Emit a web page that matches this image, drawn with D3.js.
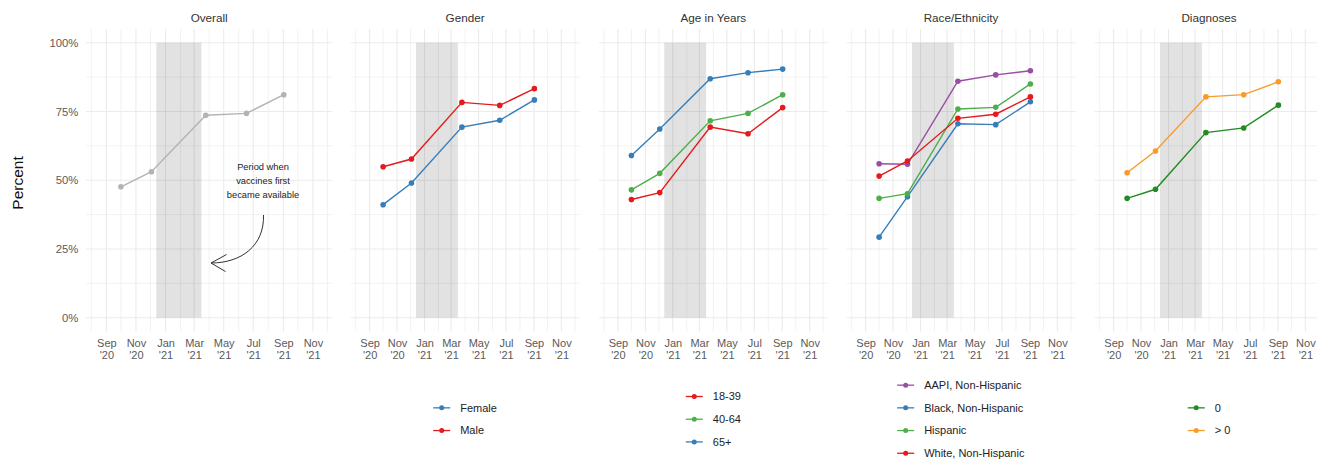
<!DOCTYPE html>
<html>
<head>
<meta charset="utf-8">
<script src="https://cdn.jsdelivr.net/npm/d3@7"></script>
<style>
  body { margin: 0; background: #fff; }
  svg { display: block; font-family: "Liberation Sans", Arial, Helvetica, sans-serif; }
</style>
</head>
<body>
<svg id="chart" width="1317" height="460"></svg>
<script>
// ---- Data -------------------------------------------------------------
const panelTitles = ["Overall", "Gender", "Age in Years", "Race/Ethnicity", "Diagnoses"];
const surveyDates = ["2020-10-01", "2020-12-03", "2021-03-25", "2021-06-17", "2021-09-02"];
const vaccineWindow = ["2020-12-13", "2021-03-16"];
const xLimits = ["2020-07-21", "2021-12-11"];
const yTicks = [0, 25, 50, 75, 100];
const yMinor = [12.5, 37.5, 62.5, 87.5];

const overall   = [47.6, 53.1, 73.6, 74.3, 81.1];
const female    = [41.1, 49.0, 69.3, 71.8, 79.2];
const male      = [54.9, 57.7, 78.3, 77.2, 83.3];
const age18to39 = [43.0, 45.5, 69.3, 66.9, 76.4];
const age40to64 = [46.5, 52.5, 71.6, 74.3, 81.1];
const age65plus = [59.0, 68.6, 86.9, 89.1, 90.4];
const aapi      = [56.0, 55.8, 86.0, 88.3, 89.8];
const black     = [29.3, 44.0, 70.5, 70.2, 78.5];
const hispanic  = [43.4, 45.1, 75.9, 76.5, 85.0];
const white     = [51.5, 57.0, 72.5, 74.0, 80.3];
const diagNone  = [43.4, 46.7, 67.3, 69.0, 77.3];
const diagSome  = [52.7, 60.6, 80.3, 81.1, 85.8];

const RED = "#E41A1C", BLUE = "#377EB8", GREEN = "#4DAF4A", PURPLE = "#984EA3";

const panelSeries = [
  [{ name: "Overall", color: "#b3b3b3", values: overall }],
  [{ name: "Female", color: BLUE, values: female },
   { name: "Male", color: RED, values: male }],
  [{ name: "18-39", color: RED, values: age18to39 },
   { name: "40-64", color: GREEN, values: age40to64 },
   { name: "65+", color: BLUE, values: age65plus }],
  [{ name: "AAPI, Non-Hispanic", color: PURPLE, values: aapi },
   { name: "Black, Non-Hispanic", color: BLUE, values: black },
   { name: "Hispanic", color: GREEN, values: hispanic },
   { name: "White, Non-Hispanic", color: RED, values: white }],
  [{ name: "0", color: "#228B22", values: diagNone },
   { name: "> 0", color: "#FA9A28", values: diagSome }]
];
const showLegend = [false, true, true, true, true];

// ---- Layout -----------------------------------------------------------
const panelBoxes = [
  { left: 86, width: 246.3 },
  { left: 350.7, width: 228.7 },
  { left: 599, width: 228.7 },
  { left: 846.7, width: 228.7 },
  { left: 1094.7, width: 228.7 }
];
const parse = d3.utcParse("%Y-%m-%d");
const dates = surveyDates.map(parse);
const xDomain = xLimits.map(parse);

const y = d3.scaleLinear().domain([0, 100]).range([317.7, 42.7]);
const plotTop = y(105), plotBottom = y(-5);

const svg = d3.select("#chart");

const allMonths = d3.utcMonth.range(xDomain[0], xDomain[1]);
const majorMonths = allMonths.filter(d => d.getUTCMonth() % 2 === 0);
const minorMonths = allMonths.filter(d => d.getUTCMonth() % 2 === 1);

panelBoxes.forEach((box, i) => {
  const x = d3.scaleUtc().domain(xDomain).range([0, box.width]);
  const g = svg.append("g").attr("transform", `translate(${box.left},0)`);

  // grid
  const grid = g.append("g");
  grid.selectAll(".vminor").data(minorMonths).join("line")
    .attr("x1", d => x(d)).attr("x2", d => x(d))
    .attr("y1", plotTop).attr("y2", plotBottom)
    .attr("stroke", "#efefef").attr("stroke-width", 0.8);
  grid.selectAll(".hminor").data(yMinor).join("line")
    .attr("x1", 0).attr("x2", box.width)
    .attr("y1", d => y(d)).attr("y2", d => y(d))
    .attr("stroke", "#efefef").attr("stroke-width", 0.8);
  grid.selectAll(".vmajor").data(majorMonths).join("line")
    .attr("x1", d => x(d)).attr("x2", d => x(d))
    .attr("y1", plotTop).attr("y2", plotBottom)
    .attr("stroke", "#ebebeb").attr("stroke-width", 1.1);
  grid.selectAll(".hmajor").data(yTicks).join("line")
    .attr("x1", 0).attr("x2", box.width)
    .attr("y1", d => y(d)).attr("y2", d => y(d))
    .attr("stroke", "#ebebeb").attr("stroke-width", 1.1);

  // vaccine rollout window
  const w = vaccineWindow.map(parse);
  g.append("rect")
    .attr("x", x(w[0])).attr("width", x(w[1]) - x(w[0]))
    .attr("y", y(100)).attr("height", y(0) - y(100))
    .attr("fill", "#000").attr("fill-opacity", 0.115);

  // facet title
  g.append("text")
    .attr("x", box.width / 2).attr("y", 22)
    .attr("text-anchor", "middle")
    .attr("font-size", 11.7).attr("fill", "#333")
    .text(panelTitles[i]);

  // x axis (two-line month labels)
  const xAxis = g.append("g")
    .attr("transform", `translate(0,${plotBottom})`)
    .call(d3.axisBottom(x).tickValues(majorMonths).tickSize(0).tickFormat(""));
  xAxis.select(".domain").remove();
  xAxis.selectAll(".tick text").each(function (d) {
    const t = d3.select(this).attr("y", 0).attr("dy", null)
      .attr("font-size", 11).attr("fill", "#5a5a5a")
      .attr("font-family", "'Liberation Sans', Arial, sans-serif");
    t.append("tspan").attr("x", 0).attr("y", 15.3).text(d3.utcFormat("%b")(d));
    t.append("tspan").attr("x", 0).attr("y", 27.6).text(d3.utcFormat("'%y")(d));
  });

  // y axis on the first panel only
  if (i === 0) {
    const yAxis = g.append("g")
      .call(d3.axisLeft(y).tickValues(yTicks).tickSize(0).tickPadding(7.7)
        .tickFormat(d => d + "%"));
    yAxis.select(".domain").remove();
    yAxis.selectAll(".tick text")
      .attr("font-size", 11.3).attr("fill", "#5a5a5a")
      .attr("font-family", "'Liberation Sans', Arial, sans-serif");
  }

  // series
  const line = d3.line().x((d, k) => x(dates[k])).y(d => y(d));
  const series = panelSeries[i];
  series.forEach(s => {
    g.append("path").datum(s.values)
      .attr("d", line).attr("fill", "none")
      .attr("stroke", s.color).attr("stroke-width", 1.4);
  });
  series.forEach(s => {
    g.selectAll(null).data(s.values).join("circle")
      .attr("cx", (d, k) => x(dates[k])).attr("cy", d => y(d))
      .attr("r", 2.8).attr("fill", s.color);
  });

  // legend centred under the panel
  if (showLegend[i]) {
    const step = 22.7, centerY = 419.2;
    const lg = g.append("g");
    const items = lg.selectAll("g").data(series).join("g")
      .attr("transform", (d, k) => `translate(0,${centerY + (k - (series.length - 1) / 2) * step})`);
    items.append("line").attr("x1", 0).attr("x2", 17)
      .attr("stroke", d => d.color).attr("stroke-width", 1.3);
    items.append("circle").attr("cx", 8.5).attr("r", 2.5).attr("fill", d => d.color);
    items.append("text").attr("x", 27).attr("dy", "0.35em")
      .attr("font-size", 11).attr("fill", "#222").text(d => d.name);
    const bb = lg.node().getBBox();
    lg.attr("transform", `translate(${box.width / 2 - bb.width / 2},0)`);
  }

  // annotation on the overall panel
  if (i === 0) {
    const note = g.append("text")
      .attr("text-anchor", "middle").attr("font-size", 9.3).attr("fill", "#222");
    ["Period when", "vaccines first", "became available"].forEach((s, k) => {
      note.append("tspan").attr("x", 177).attr("y", 169.5 + k * 14).text(s);
    });
    g.append("path")
      .attr("d", "M177.5,215 C178.5,246 155,263 125,263")
      .attr("fill", "none").attr("stroke", "#333").attr("stroke-width", 1);
    g.append("path")
      .attr("d", "M140.5,254.5 L125,263 L139.5,271.5")
      .attr("fill", "none").attr("stroke", "#333").attr("stroke-width", 1);
  }
});

// y-axis title
svg.append("text")
  .attr("transform", "translate(23,183) rotate(-90)")
  .attr("text-anchor", "middle").attr("font-size", 15.5).attr("fill", "#111")
  .text("Percent");
</script>
</body>
</html>
